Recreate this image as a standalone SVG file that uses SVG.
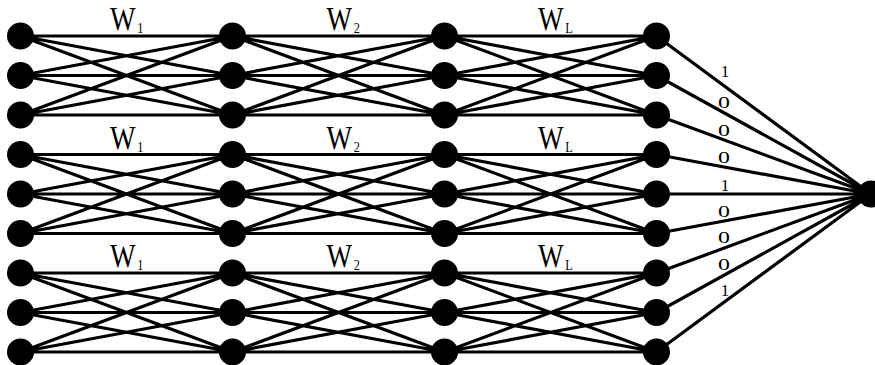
<svg xmlns="http://www.w3.org/2000/svg" xmlns:xlink="http://www.w3.org/1999/xlink" width="875" height="365" viewBox="0 0 875 365">
<style>
.bg{fill:#ffffff}
.n{fill:#000000}
.c{fill:none;stroke:#000000;stroke-width:3.2;stroke-linecap:round}
.w{font-family:"Liberation Serif","DejaVu Serif",serif;font-size:33px;fill:#000000}
.s{font-size:15px}
.b{font-family:"Liberation Serif","DejaVu Serif",serif;font-size:17px;fill:#000000;text-anchor:middle}
.z{font-family:"Liberation Serif","DejaVu Serif",serif;font-size:16.5px;fill:#000000;text-anchor:middle}
</style>
<defs>
<path id="blk" d="M0 0L212 0M0 0L212 39.5M0 0L212 79M0 39.5L212 0M0 39.5L212 39.5M0 39.5L212 79M0 79L212 0M0 79L212 39.5M0 79L212 79"/>
</defs>
<rect class="bg" x="0" y="0" width="875" height="365"/>
<g id="connectors" class="c">
<use xlink:href="#blk" href="#blk" x="20.5" y="36"/>
<use xlink:href="#blk" href="#blk" x="232.5" y="36"/>
<use xlink:href="#blk" href="#blk" x="444.5" y="36"/>
<use xlink:href="#blk" href="#blk" x="20.5" y="154.5"/>
<use xlink:href="#blk" href="#blk" x="232.5" y="154.5"/>
<use xlink:href="#blk" href="#blk" x="444.5" y="154.5"/>
<use xlink:href="#blk" href="#blk" x="20.5" y="273"/>
<use xlink:href="#blk" href="#blk" x="232.5" y="273"/>
<use xlink:href="#blk" href="#blk" x="444.5" y="273"/>
<path d="M656.5 36L871 194M656.5 75.5L871 194M656.5 115L871 194M656.5 154.5L871 194M656.5 194L871 194M656.5 233.5L871 194M656.5 273L871 194M656.5 312.5L871 194M656.5 352L871 194"/>
</g>
<g id="labels">
<text class="w" transform="translate(110,30) scale(0.82,1)">W<tspan class="s" dx="2" dy="3">1</tspan></text>
<text class="w" transform="translate(326.5,30) scale(0.82,1)">W<tspan class="s" dx="2" dy="3">2</tspan></text>
<text class="w" transform="translate(538,30) scale(0.82,1)">W<tspan class="s" dx="2" dy="3">L</tspan></text>
<text class="w" transform="translate(110,148.5) scale(0.82,1)">W<tspan class="s" dx="2" dy="3">1</tspan></text>
<text class="w" transform="translate(326.5,148.5) scale(0.82,1)">W<tspan class="s" dx="2" dy="3">2</tspan></text>
<text class="w" transform="translate(538,148.5) scale(0.82,1)">W<tspan class="s" dx="2" dy="3">L</tspan></text>
<text class="w" transform="translate(110,267) scale(0.82,1)">W<tspan class="s" dx="2" dy="3">1</tspan></text>
<text class="w" transform="translate(326.5,267) scale(0.82,1)">W<tspan class="s" dx="2" dy="3">2</tspan></text>
<text class="w" transform="translate(538,267) scale(0.82,1)">W<tspan class="s" dx="2" dy="3">L</tspan></text>
<text class="b" x="725" y="77">1</text>
<text class="z" transform="translate(724,108) scale(1.45,1)">0</text>
<text class="z" transform="translate(724,136) scale(1.45,1)">0</text>
<text class="z" transform="translate(724,163) scale(1.45,1)">0</text>
<text class="b" x="725" y="191">1</text>
<text class="z" transform="translate(724,217) scale(1.45,1)">0</text>
<text class="z" transform="translate(724,243) scale(1.45,1)">0</text>
<text class="z" transform="translate(724,270) scale(1.45,1)">0</text>
<text class="b" x="725" y="296">1</text>
</g>
<g id="n-c1-r1"><circle class="n" cx="20.5" cy="36" r="13.5"/></g>
<g id="n-c1-r2"><circle class="n" cx="20.5" cy="75.5" r="13.5"/></g>
<g id="n-c1-r3"><circle class="n" cx="20.5" cy="115" r="13.5"/></g>
<g id="n-c1-r4"><circle class="n" cx="20.5" cy="154.5" r="13.5"/></g>
<g id="n-c1-r5"><circle class="n" cx="20.5" cy="194" r="13.5"/></g>
<g id="n-c1-r6"><circle class="n" cx="20.5" cy="233.5" r="13.5"/></g>
<g id="n-c1-r7"><circle class="n" cx="20.5" cy="273" r="13.5"/></g>
<g id="n-c1-r8"><circle class="n" cx="20.5" cy="312.5" r="13.5"/></g>
<g id="n-c1-r9"><circle class="n" cx="20.5" cy="352" r="13.5"/></g>
<g id="n-c2-r1"><circle class="n" cx="232.5" cy="36" r="13.5"/></g>
<g id="n-c2-r2"><circle class="n" cx="232.5" cy="75.5" r="13.5"/></g>
<g id="n-c2-r3"><circle class="n" cx="232.5" cy="115" r="13.5"/></g>
<g id="n-c2-r4"><circle class="n" cx="232.5" cy="154.5" r="13.5"/></g>
<g id="n-c2-r5"><circle class="n" cx="232.5" cy="194" r="13.5"/></g>
<g id="n-c2-r6"><circle class="n" cx="232.5" cy="233.5" r="13.5"/></g>
<g id="n-c2-r7"><circle class="n" cx="232.5" cy="273" r="13.5"/></g>
<g id="n-c2-r8"><circle class="n" cx="232.5" cy="312.5" r="13.5"/></g>
<g id="n-c2-r9"><circle class="n" cx="232.5" cy="352" r="13.5"/></g>
<g id="n-c3-r1"><circle class="n" cx="444.5" cy="36" r="13.5"/></g>
<g id="n-c3-r2"><circle class="n" cx="444.5" cy="75.5" r="13.5"/></g>
<g id="n-c3-r3"><circle class="n" cx="444.5" cy="115" r="13.5"/></g>
<g id="n-c3-r4"><circle class="n" cx="444.5" cy="154.5" r="13.5"/></g>
<g id="n-c3-r5"><circle class="n" cx="444.5" cy="194" r="13.5"/></g>
<g id="n-c3-r6"><circle class="n" cx="444.5" cy="233.5" r="13.5"/></g>
<g id="n-c3-r7"><circle class="n" cx="444.5" cy="273" r="13.5"/></g>
<g id="n-c3-r8"><circle class="n" cx="444.5" cy="312.5" r="13.5"/></g>
<g id="n-c3-r9"><circle class="n" cx="444.5" cy="352" r="13.5"/></g>
<g id="n-c4-r1"><circle class="n" cx="656.5" cy="36" r="13.5"/></g>
<g id="n-c4-r2"><circle class="n" cx="656.5" cy="75.5" r="13.5"/></g>
<g id="n-c4-r3"><circle class="n" cx="656.5" cy="115" r="13.5"/></g>
<g id="n-c4-r4"><circle class="n" cx="656.5" cy="154.5" r="13.5"/></g>
<g id="n-c4-r5"><circle class="n" cx="656.5" cy="194" r="13.5"/></g>
<g id="n-c4-r6"><circle class="n" cx="656.5" cy="233.5" r="13.5"/></g>
<g id="n-c4-r7"><circle class="n" cx="656.5" cy="273" r="13.5"/></g>
<g id="n-c4-r8"><circle class="n" cx="656.5" cy="312.5" r="13.5"/></g>
<g id="n-c4-r9"><circle class="n" cx="656.5" cy="352" r="13.5"/></g>
<g id="n-out"><circle class="n" cx="871" cy="194" r="13.5"/></g>
</svg>
